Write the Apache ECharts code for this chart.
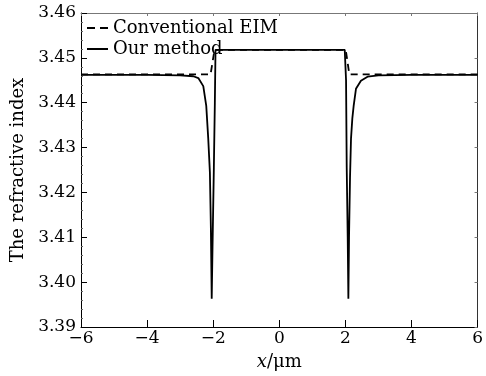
<!DOCTYPE html>
<html>
<head>
<meta charset="utf-8">
<script src="https://cdn.jsdelivr.net/npm/echarts@6/dist/echarts.min.js"></script>
<style>
  html, body { margin: 0; padding: 0; background: #fff; }
  #chart { width: 486px; height: 376px; }
</style>
</head>
<body>
<div id="chart"></div>
<script>
// Conventional EIM (step profile)
const eimX = [-6, -2.08, -1.96, 2.01, 2.12, 6]
const eimY = [3.4463, 3.4463, 3.4518, 3.4518, 3.4463, 3.4463]

// Our method (dips at the rib edges)
const oursX = [
  -6, -4, -3, -2.6, -2.45, -2.3, -2.21, -2.15, -2.1, -2.07, -2.045, -2.02, -1.98, -1.95, -1.93,
  0,
  1.98, 2.01, 2.02, 2.04, 2.07, 2.09, 2.11, 2.14, 2.17, 2.21, 2.25, 2.32, 2.47, 2.67, 3, 4, 6
]
const oursY = [
  3.4462, 3.4462, 3.4461, 3.4459, 3.4455, 3.4437, 3.4393, 3.432, 3.4245, 3.412, 3.3963, 3.408, 3.4255, 3.44, 3.4518,
  3.4518,
  3.4518, 3.4515, 3.445, 3.4255, 3.41, 3.3963, 3.41, 3.4233, 3.432, 3.4365, 3.4393, 3.4431, 3.4449, 3.4458, 3.4461, 3.4462, 3.4462
]

const serif = 'DejaVu Serif'
const pair = (xs, ys) => xs.map((x, i) => [x, ys[i]])

// legend line icons
const dashIcon = 'path://M0,0h8v2h-8z M13,0h8v2h-8z'
const solidIcon = 'path://M0,0h21v2h-21z'

const chart = echarts.init(document.getElementById('chart'))
const option = {
  animation: false,
  grid: { left: 81, right: 4, top: 13, bottom: 45 },
  legend: {
    orient: 'vertical',
    left: 82,
    top: 14,
    itemWidth: 21,
    itemHeight: 2,
    itemGap: 3,
    textStyle: { fontFamily: serif, fontSize: 18, color: '#000' },
    data: [
      { name: 'Conventional EIM', icon: dashIcon, itemStyle: { color: '#000' } },
      { name: 'Our method', icon: solidIcon, itemStyle: { color: '#000' } }
    ]
  },
  xAxis: [
    {
      type: 'value',
      min: -6,
      max: 6,
      interval: 2,
      name: '{i|x}/μm',
      nameLocation: 'middle',
      nameGap: 26,
      nameTextStyle: {
        fontFamily: serif, fontSize: 18, color: '#000',
        rich: { i: { fontFamily: serif, fontStyle: 'italic', fontSize: 18, color: '#000' } }
      },
      axisLine: { onZero: false, lineStyle: { color: '#000', width: 1 } },
      axisTick: { inside: true, length: 7, lineStyle: { color: '#000' } },
      axisLabel: {
        fontFamily: serif, fontSize: 17, color: '#000', margin: 3,
        formatter: v => String(v).replace('-', '−')
      },
      splitLine: { show: false }
    },
    {
      type: 'value',
      position: 'top',
      min: -6,
      max: 6,
      interval: 2,
      axisLine: { show: true, onZero: false, lineStyle: { color: '#777', width: 1 } },
      axisTick: { inside: true, length: 3, lineStyle: { color: '#777' } },
      axisLabel: { show: false },
      splitLine: { show: false }
    }
  ],
  yAxis: [
    {
      type: 'value',
      min: 3.39,
      max: 3.46,
      interval: 0.01,
      name: 'The refractive index',
      nameLocation: 'middle',
      nameGap: 53,
      nameTextStyle: { fontFamily: serif, fontSize: 18, color: '#000' },
      axisLine: { show: true, onZero: false, lineStyle: { color: '#000', width: 1 } },
      axisTick: { inside: true, length: 6, lineStyle: { color: '#000' } },
      minorTick: { show: true, splitNumber: 5, length: 2, lineStyle: { color: '#666' } },
      axisLabel: {
        fontFamily: serif, fontSize: 17, color: '#000', margin: 5,
        formatter: v => v.toFixed(2)
      },
      splitLine: { show: false }
    },
    {
      type: 'value',
      position: 'right',
      min: 3.39,
      max: 3.46,
      interval: 0.01,
      axisLine: { show: true, onZero: false, lineStyle: { color: '#333', width: 1 } },
      axisTick: { inside: true, length: 3, lineStyle: { color: '#777' } },
      axisLabel: { show: false },
      splitLine: { show: false }
    }
  ],
  series: [
    {
      name: 'Conventional EIM',
      type: 'line',
      symbol: 'none',
      data: pair(eimX, eimY),
      lineStyle: { color: '#000', width: 1.8, type: [7, 5] },
      itemStyle: { color: '#000' },
      z: 2
    },
    {
      name: 'Our method',
      type: 'line',
      symbol: 'none',
      data: pair(oursX, oursY),
      lineStyle: { color: '#000', width: 1.8 },
      itemStyle: { color: '#000' },
      z: 3
    }
  ]
}
chart.setOption(option)
</script>
</body>
</html>
